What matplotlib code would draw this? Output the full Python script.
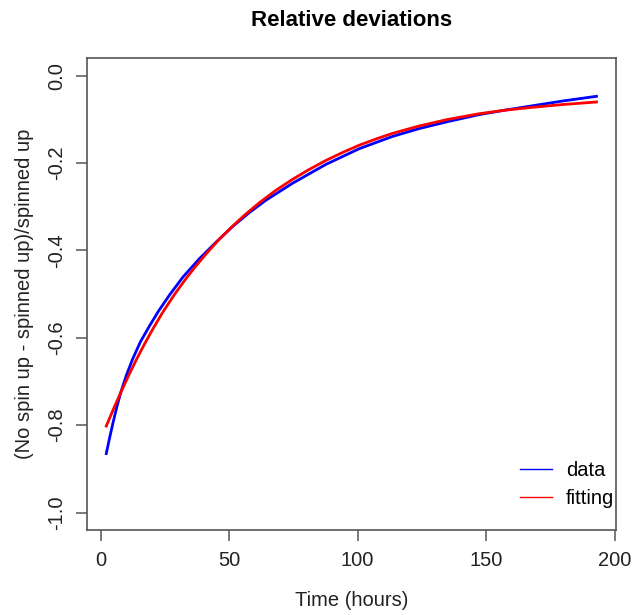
import matplotlib
matplotlib.use("Agg")
import matplotlib.pyplot as plt
from matplotlib.lines import Line2D

# values
data_hours = [2.2, 3.5, 4.8, 6.4, 8.0, 10.0, 12.5, 15.5, 19.0, 22.5, 26.8,
              32.0, 38.4, 44.9, 51.4, 57.9, 64.3, 74.7, 87.6, 100.6, 113.5,
              123.9, 135.0, 147.2, 157.0, 166.6, 179.5, 192.9]
data_dev = [-0.865, -0.829, -0.795, -0.756, -0.722, -0.686, -0.648, -0.609,
            -0.573, -0.539, -0.502, -0.461, -0.419, -0.381, -0.345, -0.313,
            -0.285, -0.246, -0.203, -0.167, -0.139, -0.121, -0.105, -0.089,
            -0.079, -0.070, -0.058, -0.047]

fit_hours = [2.2, 5.0, 8.0, 11.0, 14.0, 17.0, 20.0, 24.0, 28.7, 33.0, 37.0,
             41.0, 46.2, 51.4, 56.0, 61.7, 68.0, 74.7, 81.0, 87.6, 94.0,
             100.6, 107.0, 113.5, 123.9, 135.0, 147.2, 157.0, 166.6, 179.5,
             192.9]
fit_dev = [-0.802, -0.763, -0.723, -0.685, -0.649, -0.615, -0.583, -0.543,
           -0.501, -0.466, -0.436, -0.408, -0.374, -0.344, -0.319, -0.291,
           -0.263, -0.237, -0.215, -0.194, -0.176, -0.159, -0.145, -0.132,
           -0.115, -0.100, -0.087, -0.079, -0.073, -0.066, -0.060]

x_ticks = [0, 50, 100, 150, 200]
y_ticks = [0.0, -0.2, -0.4, -0.6, -0.8, -1.0]

plt.rcParams['font.family'] = ['Liberation Sans', 'DejaVu Sans']

fig = plt.figure(figsize=(6.34, 6.15), dpi=100)
ax = fig.add_axes([0.1368, 0.1382, 0.9716 - 0.1368, 0.9052 - 0.1382])

ax.plot(data_hours, data_dev, color="#0000ff", lw=2.0)
ax.plot(fit_hours, fit_dev, color="#ff0000", lw=2.0)

ax.set_xlim(-5.4, 200.5)
ax.set_ylim(-1.04, 0.04)
ax.set_xticks(x_ticks)
ax.set_xticklabels([str(t) for t in x_ticks])
ax.set_yticks(y_ticks)
ax.set_yticklabels(["%.1f" % t for t in y_ticks], rotation=90, va="center")

for s in ax.spines.values():
    s.set_color("#555555")
    s.set_linewidth(1.2)
ax.tick_params(length=8, width=1.1, color="#555555", labelsize=14.5,
               labelcolor="#222222", pad=7)

ax.set_title("Relative deviations", fontsize=16, fontweight="bold", pad=23)
ax.set_xlabel("Time (hours)", fontsize=14.5, color="#222222", labelpad=15)
ax.set_ylabel("(No spin up - spinned up)/spinned up", fontsize=14.5,
              color="#222222", labelpad=9)

handles = [Line2D([], [], color="#0000ff", lw=1),
           Line2D([], [], color="#ff0000", lw=1)]
ax.legend(handles, ["data", "fitting"], loc="lower right", frameon=False,
          fontsize=14.5, handlelength=1.6, handletextpad=0.7,
          borderaxespad=0.2, labelspacing=0.45,
          bbox_to_anchor=(1.02, 0.02))

fig.savefig("out.png", dpi=100)
